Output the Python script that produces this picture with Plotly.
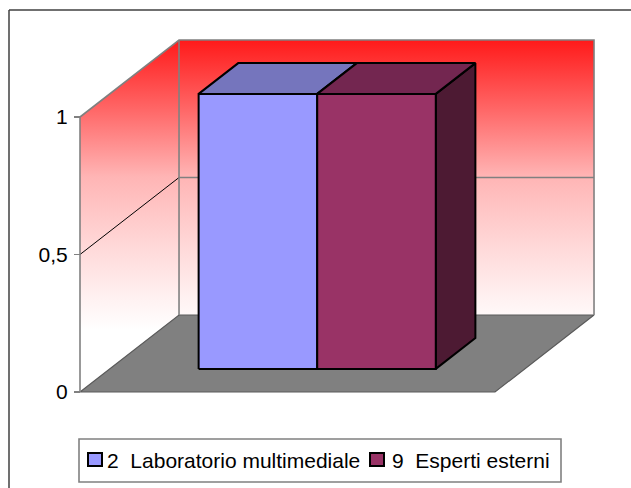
import plotly.graph_objects as go

# ---- data ----
series_names = ["2\u00a0\u00a0Laboratorio multimediale", "9\u00a0\u00a0Esperti esterni"]
series_values = [1, 1]
tick_vals = [0, 0.5, 1]
tick_text = ["0", "0,5", "1"]
axis_max = 1

# ---- style ----
front_colors = ["#9999FF", "#993366"]
top_colors = ["#7575BD", "#732650"]
side_colors = ["#4D4D80", "#4D1A33"]
FONT = "Liberation Sans, Arial, sans-serif"

# oblique projection (depth offsets in axis units)
DX = 0.2386
DY = 0.28
GAP_WIDTH = 1.5
GAP_DEPTH = 1.5

PAGE = 0
W, H = 631, 488
L, R, T, B = 60, 20, 20, 80
pw, ph = W - L - R, H - T - B
X0px, Y0px, XS, YS = 80 - PAGE, 392 - PAGE, 415, 275  # projection origin/scale (figure px)


def xr(fx):
    return (fx - X0px) / XS


def yr(fy):
    return (Y0px - fy) / YS


def paper_x(page_px):
    return (page_px - PAGE - L) / pw


def paper_y(page_py):
    return (H - B - (page_py - PAGE)) / ph


def P(x, y, z):
    return x + z * DX, y + z * DY


def poly(pts):
    xs, ys = zip(*[P(*p) for p in pts])
    xs = list(xs) + [xs[0]]
    ys = list(ys) + [ys[0]]
    return xs, ys


fig = go.Figure()

# walls (left + back) with vertical red-white gradient
wx, wy = poly([(0, 0, 0), (0, axis_max, 0), (0, axis_max, 1), (1, axis_max, 1), (1, 0, 1), (0, 0, 1)])
fig.add_trace(go.Scatter(
    x=wx, y=wy, mode="lines", fill="toself", line=dict(width=0),
    fillgradient=dict(type="vertical",
                      colorscale=[[0, "#FFFFFF"], [0.103, "#FFF2F2"], [0.276, "#FFDADA"],
                                  [0.528, "#FFB5B5"], [0.766, "#FF6565"], [1, "#FF1A1A"]],
                      start=0.2255, stop=1.28),
    showlegend=False, hoverinfo="skip"))

# floor
fx, fy = poly([(0, 0, 0), (1, 0, 0), (1, 0, 1), (0, 0, 1)])
fig.add_trace(go.Scatter(x=fx, y=fy, mode="lines", fill="toself", fillcolor="#808080",
                         line=dict(color="#5A5A5A", width=1.2), showlegend=False, hoverinfo="skip"))

# gridlines at intermediate ticks
for tv in tick_vals[1:-1]:
    gx, gy = zip(*[P(0, tv, 0), P(0, tv, 1)])
    fig.add_trace(go.Scatter(x=list(gx), y=list(gy), mode="lines", line=dict(color="#000000", width=1),
                             showlegend=False, hoverinfo="skip"))
    gx, gy = zip(*[P(0, tv, 1), P(1, tv, 1)])
    fig.add_trace(go.Scatter(x=list(gx), y=list(gy), mode="lines", line=dict(color="#808080", width=1.5),
                             showlegend=False, hoverinfo="skip"))

# wall edges
edges = [
    [(0, 0, 0), (0, axis_max, 0), (0, axis_max, 1), (1, axis_max, 1), (1, 0, 1)],
    [(0, 0, 1), (0, axis_max, 1)],
]
for e in edges:
    ex, ey = zip(*[P(*p) for p in e])
    fig.add_trace(go.Scatter(x=list(ex), y=list(ey), mode="lines", line=dict(color="#808080", width=1.6),
                             showlegend=False, hoverinfo="skip"))

# bars
n = len(series_values)
bw = 1 / (n + GAP_WIDTH)
x_start = GAP_WIDTH / 2 * bw
z0 = GAP_DEPTH / 2 / (1 + GAP_DEPTH)
z1 = 1 - z0
for i, v in enumerate(series_values):
    x0 = x_start + i * bw
    x1 = x0 + bw
    faces = [
        ([(x1, 0, z0), (x1, 0, z1), (x1, v, z1), (x1, v, z0)], side_colors[i]),
        ([(x0, v, z0), (x1, v, z0), (x1, v, z1), (x0, v, z1)], top_colors[i]),
        ([(x0, 0, z0), (x1, 0, z0), (x1, v, z0), (x0, v, z0)], front_colors[i]),
    ]
    for pts, col in faces:
        px, py = poly(pts)
        fig.add_trace(go.Scatter(x=px, y=py, mode="lines", fill="toself", fillcolor=col,
                                 line=dict(color="#000000", width=2), showlegend=False,
                                 hoverinfo="skip", name=series_names[i]))

# legend (drawn as layout shapes + annotations)
legend_box = (79, 439, 561, 482)      # page px
marker_x = [88, 370]
text_x = [105, 389.5]
marker_y = (453, 466)
text_y = 460

border = dict(color="#404040", width=1.5)
shapes = [
    dict(type="line", xref="paper", yref="paper",
         x0=paper_x(9), y0=paper_y(540), x1=paper_x(9), y1=paper_y(10), line=border, layer="below"),
    dict(type="line", xref="paper", yref="paper",
         x0=paper_x(9), y0=paper_y(10), x1=paper_x(700), y1=paper_y(10), line=border, layer="below"),
    dict(type="rect", xref="paper", yref="paper",
         x0=paper_x(legend_box[0]), y0=paper_y(legend_box[3]),
         x1=paper_x(legend_box[2]), y1=paper_y(legend_box[1]),
         line=dict(color="#808080", width=1.6), fillcolor="white"),
]
annotations = []
for i, name in enumerate(series_names):
    shapes.append(dict(type="rect", xref="paper", yref="paper",
                       x0=paper_x(marker_x[i]), x1=paper_x(marker_x[i] + 14),
                       y0=paper_y(marker_y[1]), y1=paper_y(marker_y[0]),
                       line=dict(color="#000000", width=2), fillcolor=front_colors[i]))
    annotations.append(dict(xref="paper", yref="paper", x=paper_x(text_x[i]), y=paper_y(text_y),
                            xanchor="left", yanchor="middle", text=name, showarrow=False,
                            font=dict(size=21, family=FONT, color="#000000")))

fig.update_layout(
    width=W, height=H,
    margin=dict(l=L, r=R, t=T, b=B, autoexpand=False),
    paper_bgcolor="white", plot_bgcolor="rgba(0,0,0,0)",
    font=dict(family=FONT, size=21, color="#000000"),
    showlegend=False,
    xaxis=dict(range=[xr(L), xr(W - R)], visible=False, fixedrange=True),
    yaxis=dict(range=[yr(H - B), yr(T)], anchor="free", position=(X0px - L) / pw,
               tickvals=tick_vals, ticktext=tick_text, ticks="outside", ticklen=6,
               tickcolor="#808080", tickwidth=1.5, showgrid=False, zeroline=False,
               showline=False, tickfont=dict(size=21, family=FONT, color="#000000"),
               ticklabelstandoff=2, automargin=False, fixedrange=True),
    shapes=shapes,
    annotations=annotations,
)

fig.write_html("out.html",
               config={"displayModeBar": False, "staticPlot": True},
               post_script="document.body.style.margin='0';document.body.style.overflow='hidden';")
